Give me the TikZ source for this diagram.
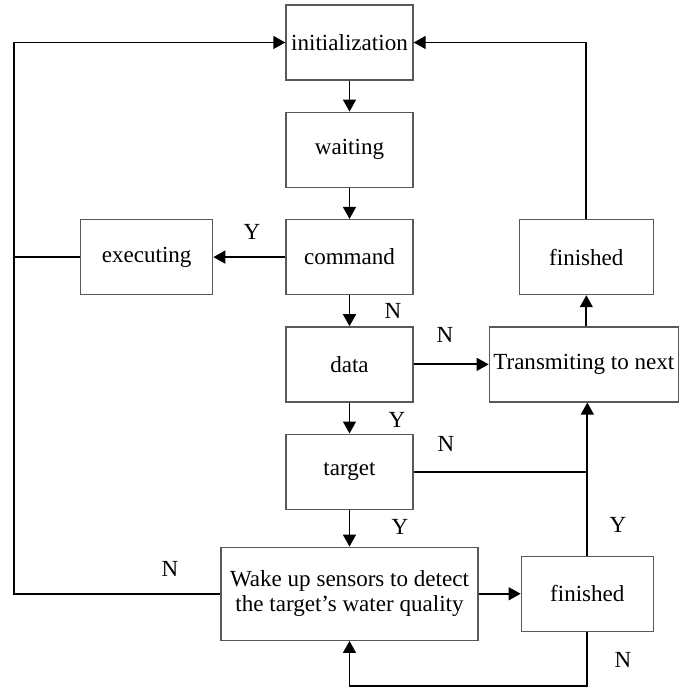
\documentclass[tikz,border=0pt]{standalone}
\usepackage{fontspec}
\setmainfont{Liberation Serif}
\usetikzlibrary{positioning,arrows.meta}

\begin{document}
\begin{tikzpicture}[x=0.025cm, y=-0.025cm, node distance=0.775cm,
    every node/.style={font=\fontsize{16.4}{17.8}\selectfont},
    box/.style={draw=black!65, line width=0.9pt, fill=white, minimum width=3.175cm, minimum height=1.875cm, align=center, inner sep=2pt},
    flow/.style={line width=1.4pt, -{Triangle[length=3mm,width=3.2mm]}},
    link/.style={line width=1.4pt}]
\useasboundingbox (0,0) rectangle (678,689);

% main column
\node [box] (init) at (349.5,42.5) {initialization};
\node [box, below=of init] (wait) {waiting};
\node [box, below=of wait] (cmd) {command};
\node [box, below=of cmd] (data) {data};
\node [box, below=of data] (target) {target};
\node [box, below=0.92cm of target, minimum width=6.425cm, minimum height=2.325cm] (wake) {Wake up sensors to detect\\the target's water quality};

% side boxes
\node [box, left=1.8cm of cmd, minimum width=3.3cm] (exec) {executing};
\node [box, right=2.625cm of cmd, minimum width=3.35cm] (fin1) {finished};
\node [box, right=1.875cm of data, minimum width=4.725cm] (trans) {Transmiting to next};
\node [box, right=1.05cm of wake, minimum width=3.3cm] (fin2) {finished};

\coordinate (lc) at (14,42.5);
\coordinate (bot) at (0,686);

% connectors
\draw [flow] (init) -- (wait);
\draw [flow] (wait) -- (cmd);
\draw [flow] (cmd) -- (exec);
\draw [flow] (cmd) -- (data);
\draw [flow] (data) -- (trans);
\draw [flow] (data) -- (target);
\draw [flow] (target) -- (wake);
\draw [flow] (wake) -- (fin2);
\draw [flow] (exec.west) -| (lc) -- (init.west);
\draw [link] (wake.west) -| (lc);
\draw [flow] (fin1.north) |- (init.east);
\draw [flow] (trans.north -| fin1.south) -- (fin1.south);
\draw [flow] (fin2.north) -- (fin2.north |- trans.south);
\draw [link] (target.east) -- (target.east -| fin2.north);
\draw [flow] (fin2.south) -- (fin2.south |- bot) -| (wake.south);

% labels
\node (yexec) at (252,232) {Y};
\node (ndata) at (393,311) {N};
\node (ntrans) at (445,335) {N};
\node (ytarget) at (397,420) {Y};
\node (nline) at (446,444) {N};
\node (ywake) at (400,527) {Y};
\node (yfin) at (618,525) {Y};
\node (nleft) at (170,569) {N};
\node (nback) at (623,660) {N};
\end{tikzpicture}
\end{document}
